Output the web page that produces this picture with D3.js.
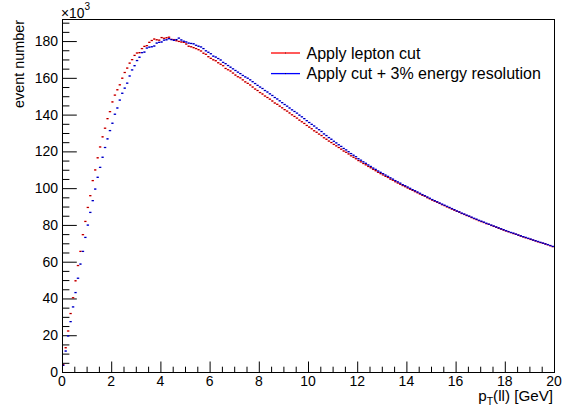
<!DOCTYPE html>
<html>
<head>
<meta charset="utf-8">
<script src="https://cdn.jsdelivr.net/npm/d3@7"></script>
<style>
body { margin: 0; background: #fff; }
svg { font-family: "Liberation Sans", Arial, Helvetica, sans-serif; }
</style>
</head>
<body>
<svg width="562" height="406"></svg>
<script>
"use strict";

// histogram binning (200 bins of 0.1 GeV)
const nBins = 200, xMin = 0, xMax = 20;

// event counts per bin, in units of 10^3
const leptonCut = [
    4.0, 13.2, 22.3, 31.8, 40.4, 49.6, 57.9, 65.6, 74.7, 81.9,
    89.5, 95.9, 104.1, 109.9, 116.5, 122.4, 127.9, 132.6, 137.8, 141.6,
    146.9, 150.6, 153.5, 156.2, 159.8, 162.9, 165.3, 168.0, 169.9, 172.2,
    173.5, 173.7, 175.9, 177.1, 177.5, 179.3, 180.3, 181.1, 180.7, 180.5,
    181.9, 181.5, 181.8, 182.1, 180.9, 180.8, 180.2, 179.8, 179.5, 179.3,
    178.4, 177.2, 176.9, 176.4, 175.9, 175.3, 174.6, 173.4, 172.8, 171.5,
    170.6, 169.8, 169.3, 168.2, 167.4, 166.6, 165.1, 164.4, 163.7, 162.6,
    161.5, 160.6, 160.0, 158.9, 157.8, 157.0, 156.1, 155.0, 153.9, 153.1,
    152.0, 151.2, 150.1, 149.3, 148.4, 147.4, 146.3, 145.6, 144.6, 143.7,
    142.7, 141.9, 140.9, 139.9, 139.0, 138.1, 137.0, 136.1, 135.2, 134.1,
    133.2, 132.3, 131.2, 130.4, 129.4, 128.6, 127.4, 126.6, 125.6, 124.8,
    123.8, 123.0, 122.1, 121.2, 120.2, 119.5, 118.6, 117.6, 116.8, 116.0,
    115.0, 114.3, 113.4, 112.7, 111.8, 111.1, 110.2, 109.5, 108.6, 107.9,
    107.2, 106.4, 105.8, 104.9, 104.3, 103.5, 102.8, 102.1, 101.4, 100.8,
    100.1, 99.4, 98.8, 98.1, 97.5, 96.8, 96.1, 95.6, 94.8, 94.2,
    93.5, 92.9, 92.3, 91.7, 91.0, 90.5, 89.8, 89.3, 88.6, 88.0,
    87.4, 86.9, 86.2, 85.7, 85.1, 84.6, 84.0, 83.4, 82.9, 82.3,
    81.8, 81.3, 80.7, 80.3, 79.7, 79.2, 78.7, 78.2, 77.7, 77.2,
    76.7, 76.3, 75.8, 75.3, 74.9, 74.4, 73.9, 73.5, 73.0, 72.6,
    72.1, 71.7, 71.3, 70.8, 70.4, 70.0, 69.6, 69.2, 68.7, 68.2
];
const cutResolution = [
    3.6, 11.4, 19.6, 27.4, 35.4, 43.2, 51.0, 58.7, 65.6, 73.2,
    79.9, 86.8, 93.2, 99.5, 105.9, 111.3, 116.8, 122.1, 126.8, 131.3,
    135.3, 140.2, 143.6, 147.9, 151.6, 154.4, 157.1, 161.0, 164.3, 166.6,
    169.4, 171.2, 173.7, 174.0, 176.2, 176.7, 176.9, 177.3, 178.9, 179.3,
    179.5, 180.5, 180.7, 181.3, 180.8, 180.4, 180.8, 181.6, 180.6, 179.9,
    179.5, 178.9, 178.7, 178.5, 177.7, 177.2, 176.8, 175.9, 174.7, 173.9,
    173.1, 171.8, 171.3, 170.5, 169.7, 168.4, 167.7, 166.7, 165.8, 164.9,
    164.0, 163.1, 162.3, 161.3, 160.5, 159.8, 158.9, 157.9, 156.9, 155.9,
    155.0, 154.2, 153.1, 152.3, 151.3, 150.4, 149.3, 148.5, 147.5, 146.5,
    145.5, 144.6, 143.6, 142.6, 141.7, 140.8, 139.7, 138.8, 137.8, 136.7,
    135.7, 134.7, 133.8, 132.7, 131.8, 130.8, 129.5, 128.6, 127.5, 126.6,
    125.5, 124.6, 123.6, 122.7, 121.6, 120.8, 119.8, 118.8, 117.9, 117.1,
    116.0, 115.2, 114.3, 113.5, 112.6, 111.8, 110.9, 110.2, 109.3, 108.6,
    107.9, 107.1, 106.4, 105.6, 104.9, 104.1, 103.4, 102.7, 101.9, 101.3,
    100.6, 99.9, 99.2, 98.6, 97.9, 97.2, 96.5, 95.9, 95.2, 94.5,
    93.8, 93.2, 92.6, 91.9, 91.3, 90.7, 90.1, 89.5, 88.9, 88.3,
    87.6, 87.1, 86.4, 85.9, 85.3, 84.8, 84.2, 83.6, 83.1, 82.5,
    82.0, 81.5, 80.9, 80.4, 79.9, 79.4, 78.9, 78.4, 77.9, 77.4,
    76.9, 76.4, 75.9, 75.5, 75.0, 74.5, 74.1, 73.6, 73.2, 72.7,
    72.3, 71.8, 71.4, 71.0, 70.5, 70.1, 69.7, 69.3, 68.8, 68.3
];

const xTicks = [0, 2, 4, 6, 8, 10, 12, 14, 16, 18, 20];
const yTicks = [0, 20, 40, 60, 80, 100, 120, 140, 160, 180];
const legendLabels = ["Apply lepton cut", "Apply cut + 3% energy resolution"];
const seriesColors = ["#ff0000", "#0000ff"];

const chart = d3.select("body svg");

const frame = { left: 62, right: 554, top: 19, bottom: 372 },
      majorTickX = 10.5,
      minorTickX = 5.3,
      majorTickY = 14.8,
      minorTickY = 7.4,
      labelSize = 14,
      titleSize = 14.4,
      xTitleSize = 15.2,
      legendSize = 16;

let scaleX = d3.scaleLinear()
    .domain([xMin, xMax])
    .range([frame.left, frame.right]);

let scaleY = d3.scaleLinear()
    .domain([0, 192])
    .range([frame.bottom, frame.top]);

const binWidth = (xMax - xMin) / nBins;

// x axis (ticks drawn upward, inside the frame)
let xAxis = chart.append("g")
    .attr("class", "x_axis")
    .attr("transform", `translate(0, ${frame.bottom})`)
    .call(d3.axisTop(scaleX)
        .ticks(40)
        .tickSize(minorTickX)
        .tickFormat(""));
xAxis.select(".domain").remove();
xAxis.selectAll(".tick line")
    .attr("stroke", "#000")
    .attr("y2", d => xTicks.includes(Math.round(d * 10) / 10) ? -majorTickX : -minorTickX);

chart.append("g")
    .attr("class", "x_labels")
    .selectAll("text")
    .data(xTicks)
    .enter()
    .append("text")
    .attr("x", d => scaleX(d))
    .attr("y", frame.bottom + 13.5)
    .attr("text-anchor", "middle")
    .attr("font-size", labelSize)
    .text(d => d);

// y axis (ticks drawn to the right, inside the frame)
let yAxis = chart.append("g")
    .attr("class", "y_axis")
    .attr("transform", `translate(${frame.left}, 0)`)
    .call(d3.axisRight(scaleY)
        .tickValues(d3.range(0, 192, 5))
        .tickSize(minorTickY)
        .tickFormat(""));
yAxis.select(".domain").remove();
yAxis.selectAll(".tick line")
    .attr("stroke", "#000")
    .attr("x2", d => yTicks.includes(d) ? majorTickY : minorTickY);

chart.append("g")
    .attr("class", "y_labels")
    .selectAll("text")
    .data(yTicks)
    .enter()
    .append("text")
    .attr("x", frame.left - 4)
    .attr("y", d => scaleY(d) + 5)
    .attr("text-anchor", "end")
    .attr("font-size", labelSize)
    .text(d => d);

// exponent label
let expo = chart.append("text")
    .attr("x", frame.left - 1)
    .attr("y", 18)
    .attr("font-size", 13.8);
expo.append("tspan").text("\u00d710");
expo.append("tspan").attr("font-size", 10).attr("dy", -8).text("3");

// axis titles
chart.append("text")
    .attr("transform", `translate(24, ${frame.top + 1}) rotate(-90)`)
    .attr("text-anchor", "end")
    .attr("font-size", titleSize)
    .text("event number");

let xTitle = chart.append("text")
    .attr("x", frame.right - 1)
    .attr("y", 401)
    .attr("text-anchor", "end")
    .attr("font-size", xTitleSize);
xTitle.append("tspan").text("p");
xTitle.append("tspan").attr("font-size", 10.5).attr("dy", 3.5).text("T");
xTitle.append("tspan").attr("dy", -3.5).text("(ll) [GeV]");

// histogram markers: horizontal bin-width bars with a dot at bin centre
[leptonCut, cutResolution].forEach((series, s) => {
    let g = chart.append("g").attr("class", "series_" + s);
    g.selectAll("line")
        .data(series)
        .enter()
        .append("line")
        .attr("x1", (d, i) => scaleX(xMin + i * binWidth))
        .attr("x2", (d, i) => scaleX(xMin + (i + 1) * binWidth))
        .attr("y1", d => scaleY(d))
        .attr("y2", d => scaleY(d))
        .attr("stroke", seriesColors[s])
        .attr("stroke-width", 1.3);
    g.selectAll("rect")
        .data(series)
        .enter()
        .append("rect")
        .attr("x", (d, i) => scaleX(xMin + (i + 0.5) * binWidth) - 0.5)
        .attr("y", d => scaleY(d) - 0.5)
        .attr("width", 1)
        .attr("height", 1)
        .attr("fill", "#000")
        .attr("opacity", 0.6);
});

// frame
chart.append("rect")
    .attr("x", frame.left + 0.5)
    .attr("y", frame.top + 0.5)
    .attr("width", frame.right - frame.left)
    .attr("height", frame.bottom - frame.top)
    .attr("fill", "none")
    .attr("stroke", "#000");

// legend
let legend = chart.append("g")
    .attr("class", "legend")
    .attr("transform", "translate(271, 53)");
legend.selectAll("g")
    .data(legendLabels)
    .enter()
    .append("g")
    .attr("transform", (d, i) => `translate(0, ${i * 20.6})`)
    .each(function(d, i) {
        let item = d3.select(this);
        item.append("line")
            .attr("x1", 0)
            .attr("x2", 29)
            .attr("stroke", seriesColors[i])
            .attr("stroke-width", 1.3);
        item.append("rect")
            .attr("x", 14)
            .attr("y", -0.5)
            .attr("width", 1)
            .attr("height", 1)
            .attr("fill", "#000")
            .attr("opacity", 0.6);
        item.append("text")
            .attr("x", 35.5)
            .attr("y", 5.5)
            .attr("font-size", legendSize)
            .text(d);
    });
</script>
</body>
</html>
